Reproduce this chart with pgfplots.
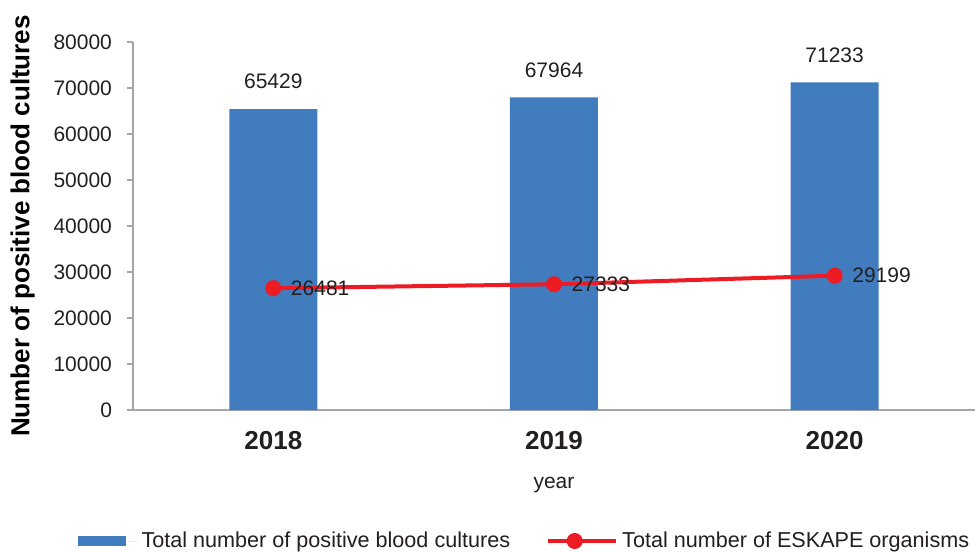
\documentclass[border=0pt]{standalone}
\usepackage{pgfplots}
\pgfplotsset{compat=1.18}
\usepackage{fontspec}
\setmainfont{Liberation Sans}
\definecolor{barblue}{RGB}{65,124,190}
\definecolor{linered}{RGB}{237,28,36}
\definecolor{axgray}{RGB}{165,165,170}
\definecolor{txt}{RGB}{35,31,32}

\begin{document}
\begin{tikzpicture}
\useasboundingbox (-66.5pt,-71pt) rectangle (421.5pt,205pt);
\begin{axis}[
    scale only axis,
    width=421pt, height=184pt,
    xmin=-0.5, xmax=2.5,
    ymin=0, ymax=80000,
    axis lines*=left,
    axis line style={axgray, line width=0.8pt},
    xtick={0,1,2},
    xticklabels={2018,2019,2020},
    xticklabel style={font=\bfseries\fontsize{13}{15}\selectfont, text=txt, yshift=-4pt},
    x tick style={draw=none},
    extra x ticks={-0.5,0.5,1.5,2.5},
    extra x tick labels={},
    extra x tick style={major tick length=4pt, tick align=outside, tick style={draw=txt, line width=0.8pt}},
    ytick={0,10000,...,80000},
    y tick style={axgray, line width=0.8pt},
    major tick length=3pt,
    tick align=outside,
    scaled y ticks=false,
    /pgf/number format/assume math mode=true,
    yticklabel={\pgfmathprintnumber[fixed,set thousands separator={}]{\tick}},
    yticklabel style={font=\fontsize{10.5}{12}\selectfont, text=txt, xshift=-4pt},
    ylabel={Number of positive blood cultures},
    ylabel style={font=\bfseries\fontsize{13}{15}\selectfont, text=black, yshift=2.5pt},
    xlabel={year},
    xlabel style={font=\fontsize{10.5}{12}\selectfont, text=txt},
    legend columns=2,
    legend style={draw=none, at={(0.466,-0.356)}, anchor=center,
        font=\fontsize{10.8}{12}\selectfont, text=txt,
        /tikz/every even column/.append style={column sep=16pt}},
    clip=false,
]
\addplot[ybar, bar width=44pt, fill=barblue, draw=none,
    nodes near coords, nodes near coords style={font=\fontsize{10.5}{12}\selectfont, text=txt, yshift=6.5pt},
    point meta=explicit symbolic,
    legend image code/.code={\fill[barblue] (0pt,-2.6pt) rectangle (24pt,2.6pt); \path (0pt,0pt) -- (30pt,0pt);}]
    coordinates {(0,65429) [65429] (1,67964) [67964] (2,71233) [71233]};
\addlegendentry{Total number of positive blood cultures}
\addplot[linered, line width=2pt, mark=*, mark size=3pt, mark options={fill=linered, draw=linered},
    nodes near coords, point meta=explicit symbolic,
    nodes near coords style={anchor=west, font=\fontsize{10.5}{12}\selectfont, text=txt, xshift=4.5pt, yshift=0pt},
    legend image code/.code={\draw[linered, line width=2pt] (0pt,0pt) -- (26.5pt,0pt); \fill[linered] (13.25pt,0pt) circle (3pt); \path (0pt,0pt) -- (34pt,0pt);}]
    coordinates {(0,26481) [26481] (1,27333) [27333] (2,29199) [29199]};
\addlegendentry{Total number of ESKAPE organisms}
\end{axis}
\end{tikzpicture}
\end{document}
